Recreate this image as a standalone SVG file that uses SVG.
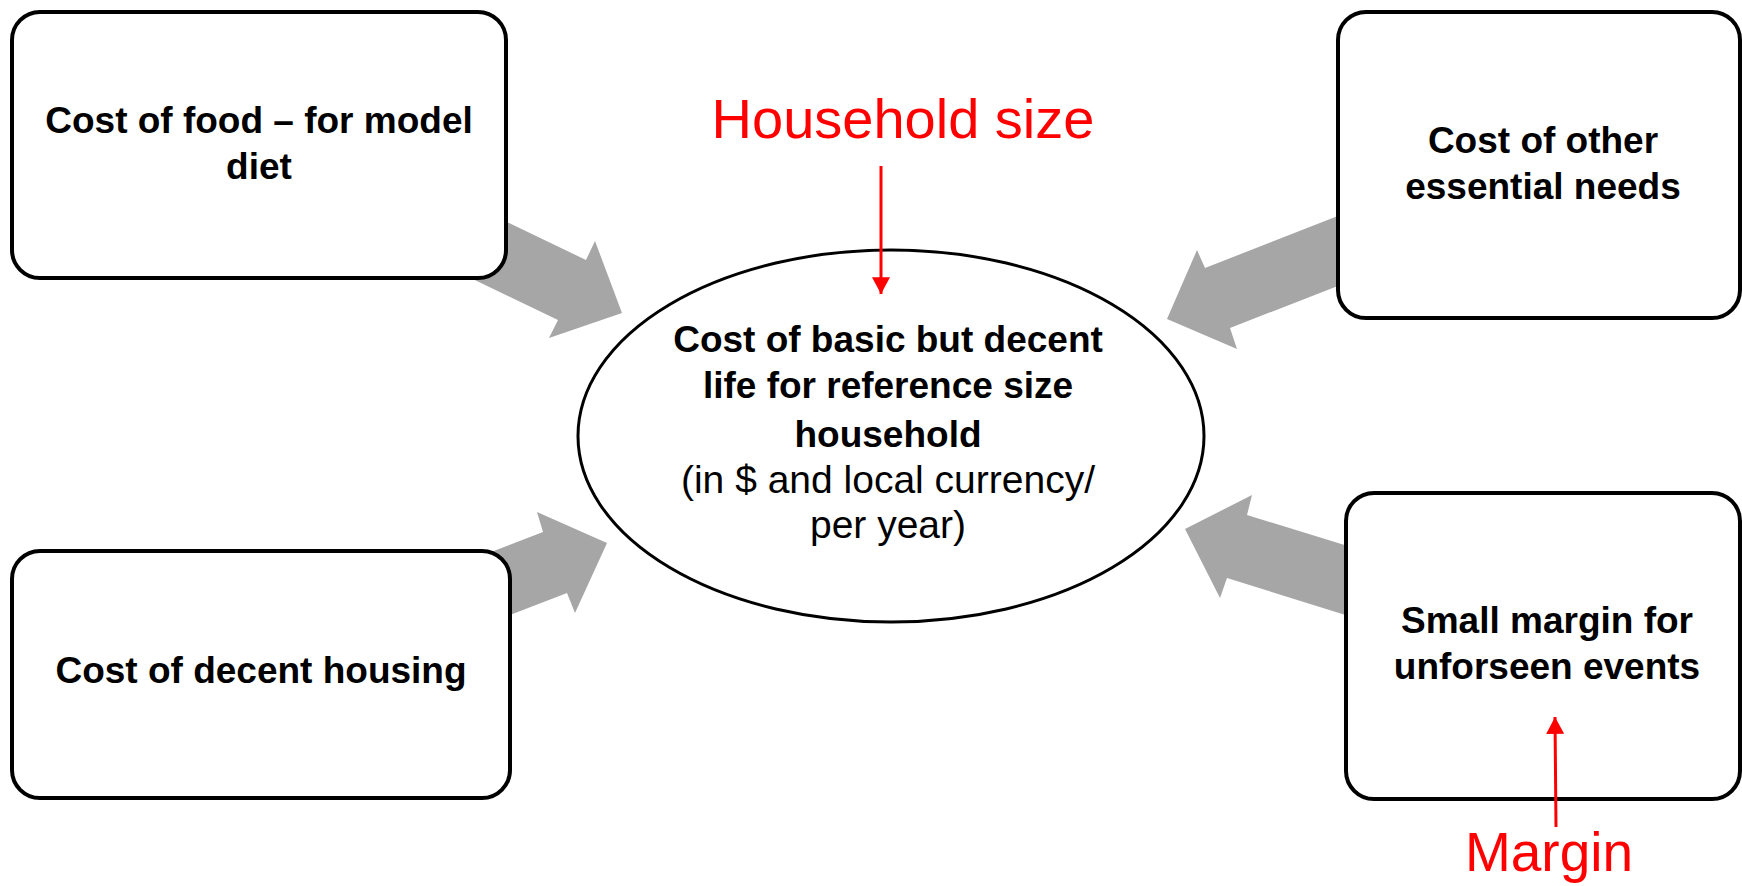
<svg xmlns="http://www.w3.org/2000/svg" width="1742" height="886" viewBox="0 0 1742 886">
<defs>
<style>
.box{fill:#ffffff;stroke:#000000;stroke-width:4}
.ell{fill:#ffffff;stroke:#000000;stroke-width:3}
.blk{fill:#a6a6a6;stroke:none}
.t{font-family:"Liberation Sans",Arial,sans-serif;font-weight:bold;font-size:37px;fill:#000000;text-anchor:middle}
.r{font-family:"Liberation Sans",Arial,sans-serif;font-size:39px;fill:#000000;text-anchor:middle}
.red{font-family:"Liberation Sans",Arial,sans-serif;font-size:56px;fill:#ff0000;text-anchor:middle}
.rl{stroke:#ff0000;stroke-width:3;fill:none}
</style>
<marker id="rh" markerUnits="userSpaceOnUse" markerWidth="18" markerHeight="18" viewBox="0 0 16 16" refX="15" refY="8" orient="auto">
<path d="M0,0 L15,8 L0,16 Z" fill="#ff0000"/>
</marker>
</defs>
<rect width="1742" height="886" fill="#ffffff"/>
<g id="connectors">
<polygon class="blk" points="451,195 586,260 595,241 622,313 549,338 558,320 423,255"/>
<polygon class="blk" points="403,586 543,532 537,512 607,543 575,613 567,593 427,647"/>
<polygon class="blk" points="1435,178 1205,268 1197,250 1167,319 1237,349 1230,328 1435,248"/>
<polygon class="blk" points="1445,576 1247,515 1252,495 1185,529 1220,598 1227,578 1445,646"/>
</g>
<g id="node-food">
<rect class="box" x="12" y="12" width="494" height="266" rx="28"/>
<text class="t" x="259" y="133">Cost of food – for model</text>
<text class="t" x="259" y="179">diet</text>
</g>
<g id="node-housing">
<rect class="box" x="12" y="551" width="498" height="247" rx="28"/>
<text class="t" x="261" y="683">Cost of decent housing</text>
</g>
<g id="node-other">
<rect class="box" x="1338" y="12" width="402" height="306" rx="28"/>
<text class="t" x="1543" y="153">Cost of other</text>
<text class="t" x="1543" y="199">essential needs</text>
</g>
<g id="node-margin">
<rect class="box" x="1346" y="493" width="394" height="306" rx="28"/>
<text class="t" x="1547" y="633">Small margin for</text>
<text class="t" x="1547" y="679">unforseen events</text>
</g>
<g id="node-center">
<ellipse class="ell" cx="891" cy="436" rx="313" ry="186"/>
<text class="t" x="888" y="352">Cost of basic but decent</text>
<text class="t" x="888" y="398">life for reference size</text>
<text class="t" x="888" y="447">household</text>
<text class="r" x="888" y="493">(in $ and local currency/</text>
<text class="r" x="888" y="538">per year)</text>
</g>
<g id="annotations">
<text class="red" x="903" y="138">Household size</text>
<line class="rl" x1="881" y1="166" x2="881" y2="294" marker-end="url(#rh)"/>
<text class="red" x="1549" y="871" style="font-size:55px">Margin</text>
<line class="rl" x1="1556" y1="827" x2="1555" y2="717" marker-end="url(#rh)"/>
</g>
</svg>
